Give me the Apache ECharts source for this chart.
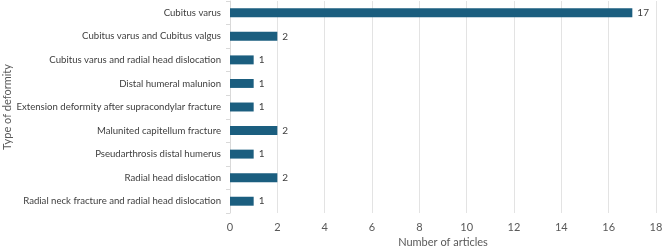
<!DOCTYPE html>
<html>
<head>
<meta charset="utf-8">
<script src="https://cdn.jsdelivr.net/npm/echarts@6/dist/echarts.min.js"></script>
<style>
  html, body { margin: 0; padding: 0; background: #fff; }
  #chart { width: 667px; height: 249px; }
</style>
</head>
<body>
<div id="chart"></div>
<script>
const categories = [
  'Cubitus varus',
  'Cubitus varus and Cubitus valgus',
  'Cubitus varus and radial head dislocation',
  'Distal humeral malunion',
  'Extension deformity after supracondylar fracture',
  'Malunited capitellum fracture',
  'Pseudarthrosis distal humerus',
  'Radial head dislocation',
  'Radial neck fracture and radial head dislocation'
]
const articles = [17, 2, 1, 1, 1, 2, 1, 2, 1]

const font = 'Lato, "Open Sans", sans-serif'
const chart = echarts.init(document.getElementById('chart'))

chart.setOption({
  animation: false,
  textStyle: { fontFamily: font },
  grid: { left: 230, right: 11, top: 1, bottom: 36, containLabel: false, outerBoundsMode: 'none' },
  xAxis: {
    type: 'value',
    min: 0,
    max: 18,
    interval: 2,
    name: 'Number of articles',
    nameLocation: 'middle',
    nameGap: 24,
    nameMoveOverlap: false,
    nameTextStyle: { color: '#595959', fontSize: 11, fontFamily: font },
    axisLine: { show: false },
    axisTick: { show: false },
    axisLabel: { color: '#595959', fontSize: 11, margin: 9, fontFamily: font },
    splitLine: { show: true, lineStyle: { color: '#e3e3e3', width: 1 } }
  },
  yAxis: {
    type: 'category',
    inverse: true,
    data: categories,
    name: 'Type of deformity',
    nameLocation: 'middle',
    nameGap: 217,
    nameMoveOverlap: false,
    nameRotate: 90,
    nameTextStyle: { color: '#595959', fontSize: 11, fontFamily: font },
    axisLine: { show: true, lineStyle: { color: '#d9d9d9' } },
    axisTick: { show: true, length: 4, lineStyle: { color: '#d9d9d9' } },
    axisLabel: { color: '#404040', fontSize: 9.6, margin: 9, fontFamily: font },
    splitLine: { show: false }
  },
  series: [{
    type: 'bar',
    data: articles,
    barWidth: '38%',
    itemStyle: { color: '#1b5e7f' },
    label: {
      show: true,
      position: 'right',
      distance: 5,
      color: '#404040',
      fontSize: 10,
      fontFamily: font
    }
  }]
})
</script>
</body>
</html>
